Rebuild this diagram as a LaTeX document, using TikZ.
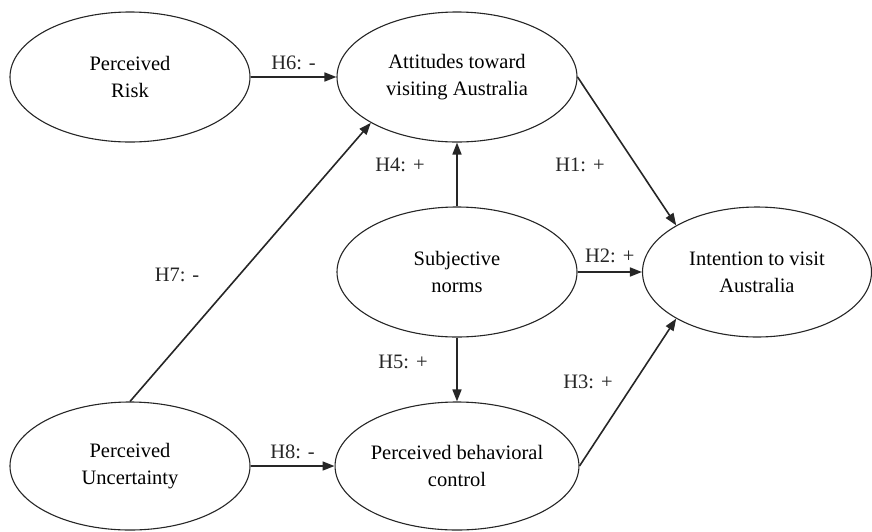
\documentclass[tikz,border=0pt]{standalone}
\usepackage{fontspec}
\setmainfont{Liberation Serif}
\usetikzlibrary{arrows.meta,positioning,shapes.geometric}

\begin{document}
\begin{tikzpicture}[
  x=1pt, y=1pt,
  font=\rmfamily\fontsize{20.5}{27}\selectfont,
  construct/.style={draw=black!85, line width=1.1pt, ellipse, fill=white,
                    align=center, inner sep=0pt, minimum width=240pt,
                    minimum height=130pt},
  arr/.style={-{Triangle[length=12pt, width=9pt]}, black!85, line width=1.6pt},
  lbl/.style={font=\rmfamily\fontsize{20.5}{22}\selectfont, text=black!85, inner sep=2pt},
]
\useasboundingbox (0,0) rectangle (872,-531);

% ---------------- constructs ----------------------------------------
\node[construct] (risk) at (130,-77)  {Perceived\\Risk};
\node[construct] (att)  at (457,-77)  {Attitudes toward\\visiting Australia};
\node[construct] (sn)   at (457,-272) {Subjective\\norms};
\node[construct, minimum width=229pt] (int) at (757,-272)
  {Intention to visit\\Australia};
\node[construct, minimum height=128pt] (unc) at (130,-466)
  {Perceived\\Uncertainty};
\node[construct, minimum height=128pt] (pbc) at (457,-466)
  {Perceived behavioral\\control};

% ---------------- hypotheses ----------------------------------------
\draw[arr] (risk.east) -- node[lbl, above, yshift=4pt] {H6: -} (att.west);
\draw[arr] (unc.north) -- (att.208);
\node[lbl] (h7) at (177,-275) {H7: -};
\draw[arr] (sn.north) -- (att.south);
\node[lbl] (h4) at (400,-165) {H4: +};
\draw[arr] (att.east) -- (int.150);
\node[lbl] (h1) at (580,-165) {H1: +};
\draw[arr] (sn.east) -- node[lbl, above, yshift=6pt] {H2: +} (int.west);
\draw[arr] (sn.south) -- (pbc.north);
\node[lbl] (h5) at (403,-362) {H5: +};
\draw[arr] (pbc.east) -- (int.210);
\node[lbl] (h3) at (588,-382) {H3: +};
\draw[arr] (unc.east) -- node[lbl, above, yshift=4pt] {H8: -} (pbc.west);

\end{tikzpicture}
\end{document}
